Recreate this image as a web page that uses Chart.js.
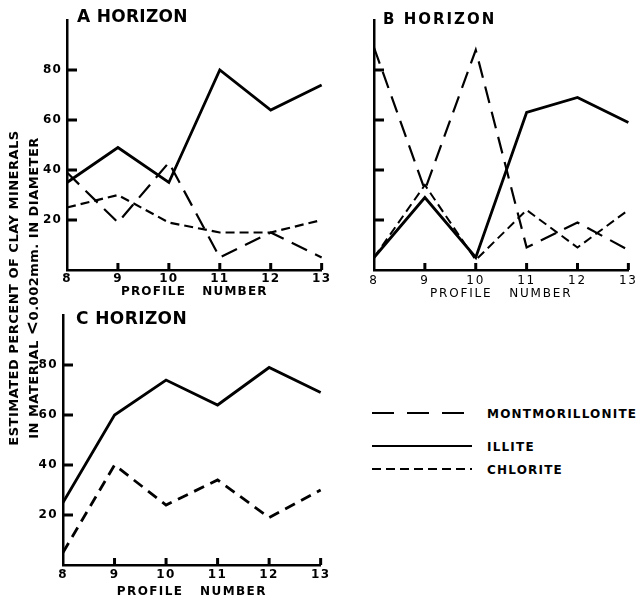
<!DOCTYPE html>
<html>
<head>
<meta charset="utf-8">
<title>Clay minerals by horizon</title>
<script src="https://cdn.jsdelivr.net/npm/chart.js@4.4.0/dist/chart.umd.min.js"></script>
<style>
  body { margin: 0; background: #fff; }
  #page { position: relative; width: 640px; height: 603px; overflow: hidden; font-family: "DejaVu Sans", sans-serif; color: #000; }
  canvas { position: absolute; }
  .title { position: absolute; font-weight: bold; white-space: nowrap; line-height: 20px; }
  .ytitle { position: absolute; width: 340px; height: 16px; line-height: 16px; text-align: center; font-weight: bold; font-size: 13px; letter-spacing: 0.5px; white-space: nowrap; transform: rotate(-90deg); }
  #legend { position: absolute; left: 365px; top: 400px; }
</style>
</head>
<body>
<div id="page">
  <canvas id="chartA" width="332" height="305" style="left:0;top:0"></canvas>
  <canvas id="chartB" width="310" height="305" style="left:330px;top:0"></canvas>
  <canvas id="chartC" width="332" height="303" style="left:0;top:300px"></canvas>

  <div class="title" style="left:77px;top:6px;font-size:17px;letter-spacing:0.3px">A HORIZON</div>
  <div class="title" style="left:383px;top:9px;font-size:15px;letter-spacing:2px">B HORIZON</div>
  <div class="title" style="left:76px;top:308px;font-size:17px;letter-spacing:0.4px">C HORIZON</div>

  <div class="ytitle" style="left:-156px;top:280px">ESTIMATED PERCENT OF CLAY MINERALS</div>
  <div class="ytitle" style="left:-138px;top:280px">IN MATERIAL <span style="font-size:17px">&lt;</span>0.002mm. IN DIAMETER</div>

  <svg id="legend" width="275" height="80"></svg>
</div>

<script>
// Clay mineral percentages per profile
const profiles = ["8", "9", "10", "11", "12", "13"];
const yTickValues = [20, 40, 60, 80];
const seriesNames = ["MONTMORILLONITE", "ILLITE", "CHLORITE"];

// A horizon
const montA = [39, 19, 43, 5, 15, 5];
const illiteA = [35, 49, 35, 80, 64, 74];
const chloriteA = [25, 30, 19, 15, 15, 20];

// B horizon
const montB = [89, 32, 88, 9, 19, 8];
const illiteB = [5, 29, 5, 63, 69, 59];
const chloriteB = [5, 34, 4, 24, 9, 24];

// C horizon (no montmorillonite)
const illiteC = [25, 60, 74, 64, 79, 69];
const chloriteC = [5, 40, 24, 34, 19, 30];

const dashes = { MONTMORILLONITE: [17, 9], ILLITE: [], CHLORITE: [9, 5] };

// canvas letterSpacing so the axis lettering spreads out like the drawing
const letterSpacing = {
  id: "letterSpacing",
  beforeDraw(chart, args, opts) {
    chart.ctx.letterSpacing = opts.value || "0px";
  }
};

// short tick marks drawn inside the axes
const innerTicks = {
  id: "innerTicks",
  afterDatasetsDraw(chart) {
    const { ctx, chartArea, scales } = chart;
    ctx.save();
    ctx.strokeStyle = "#000";
    ctx.lineWidth = 3;
    ctx.beginPath();
    yTickValues.forEach(v => {
      const py = scales.y.getPixelForValue(v);
      ctx.moveTo(chartArea.left, py);
      ctx.lineTo(chartArea.left + 10, py);
    });
    for (let i = 1; i < profiles.length; i++) {
      const px = scales.x.getPixelForValue(i);
      ctx.moveTo(px, chartArea.bottom);
      ctx.lineTo(px, chartArea.bottom - 7);
    }
    ctx.stroke();
    ctx.restore();
  }
};

function series(name, data, width, dash) {
  return {
    label: name,
    data: data,
    borderColor: "#000",
    backgroundColor: "#000",
    borderWidth: width,
    borderDash: dash || dashes[name],
    pointRadius: 0,
    tension: 0,
    fill: false
  };
}

function makeChart(id, datasets, cfg) {
  const font = { family: "DejaVu Sans", size: 12, weight: cfg.weight };
  return new Chart(document.getElementById(id), {
    type: "line",
    data: { labels: profiles, datasets: datasets },
    options: {
      responsive: false,
      animation: false,
      layout: { padding: { top: cfg.padTop, right: cfg.padRight, left: 0, bottom: 0 } },
      scales: {
        x: {
          grid: { display: false, drawTicks: false },
          border: { display: true, color: "#000", width: 2.5 },
          ticks: { color: "#000", font: font, padding: cfg.xTickPad, autoSkip: false, maxRotation: 0 },
          title: {
            display: true,
            text: "PROFILE   NUMBER",
            color: "#000",
            font: font,
            padding: { top: 0, bottom: cfg.titlePad }
          },
          afterFit: s => { s.height = cfg.xHeight; }
        },
        y: {
          min: 0,
          max: 100,
          grid: { display: false, drawTicks: false },
          border: { display: true, color: "#000", width: 2.5 },
          ticks: {
            stepSize: 20,
            color: "#000",
            font: font,
            padding: 5,
            callback: v => (cfg.showY && yTickValues.includes(v)) ? String(v) : ""
          },
          afterFit: s => { s.width = cfg.yWidth; }
        }
      },
      plugins: {
        legend: { display: false },
        tooltip: { enabled: false },
        letterSpacing: { value: cfg.spacing }
      }
    },
    plugins: [letterSpacing, innerTicks]
  });
}

makeChart("chartA", [
  series("MONTMORILLONITE", montA, 2.2),
  series("ILLITE", illiteA, 2.8),
  series("CHLORITE", chloriteA, 2.2)
], { yWidth: 67, xHeight: 35, padTop: 20, padRight: 10, xTickPad: 2, titlePad: 6, showY: true, weight: "bold", spacing: "1.2px" });

makeChart("chartB", [
  series("MONTMORILLONITE", montB, 2.2),
  series("ILLITE", illiteB, 2.8),
  series("CHLORITE", chloriteB, 2)
], { yWidth: 44, xHeight: 35, padTop: 20, padRight: 10, xTickPad: 4, titlePad: 4, showY: false, weight: "normal", spacing: "1.8px" });

makeChart("chartC", [
  series("ILLITE", illiteC, 2.8),
  series("CHLORITE", chloriteC, 2.8, [11, 7])
], { yWidth: 63, xHeight: 38, padTop: 15, padRight: 11, xTickPad: 3, titlePad: 4, showY: true, weight: "bold", spacing: "1.4px" });

// Legend: line sample plus name, one row per mineral
const svg = document.getElementById("legend");
const ns = "http://www.w3.org/2000/svg";
const rowY = [13, 46, 69];
const legendDash = { MONTMORILLONITE: "22 13", ILLITE: "", CHLORITE: "9 5" };
seriesNames.forEach((name, i) => {
  const line = document.createElementNS(ns, "line");
  line.setAttribute("x1", 7);
  line.setAttribute("x2", 107);
  line.setAttribute("y1", rowY[i]);
  line.setAttribute("y2", rowY[i]);
  line.setAttribute("stroke", "#000");
  line.setAttribute("stroke-width", 2.2);
  if (legendDash[name]) line.setAttribute("stroke-dasharray", legendDash[name]);
  svg.appendChild(line);

  const text = document.createElementNS(ns, "text");
  text.setAttribute("x", 122);
  text.setAttribute("y", rowY[i] + 4.5);
  text.setAttribute("font-family", "DejaVu Sans");
  text.setAttribute("font-size", "12");
  text.setAttribute("font-weight", "bold");
  text.setAttribute("letter-spacing", "1.2");
  text.textContent = name;
  svg.appendChild(text);
});
</script>
</body>
</html>
